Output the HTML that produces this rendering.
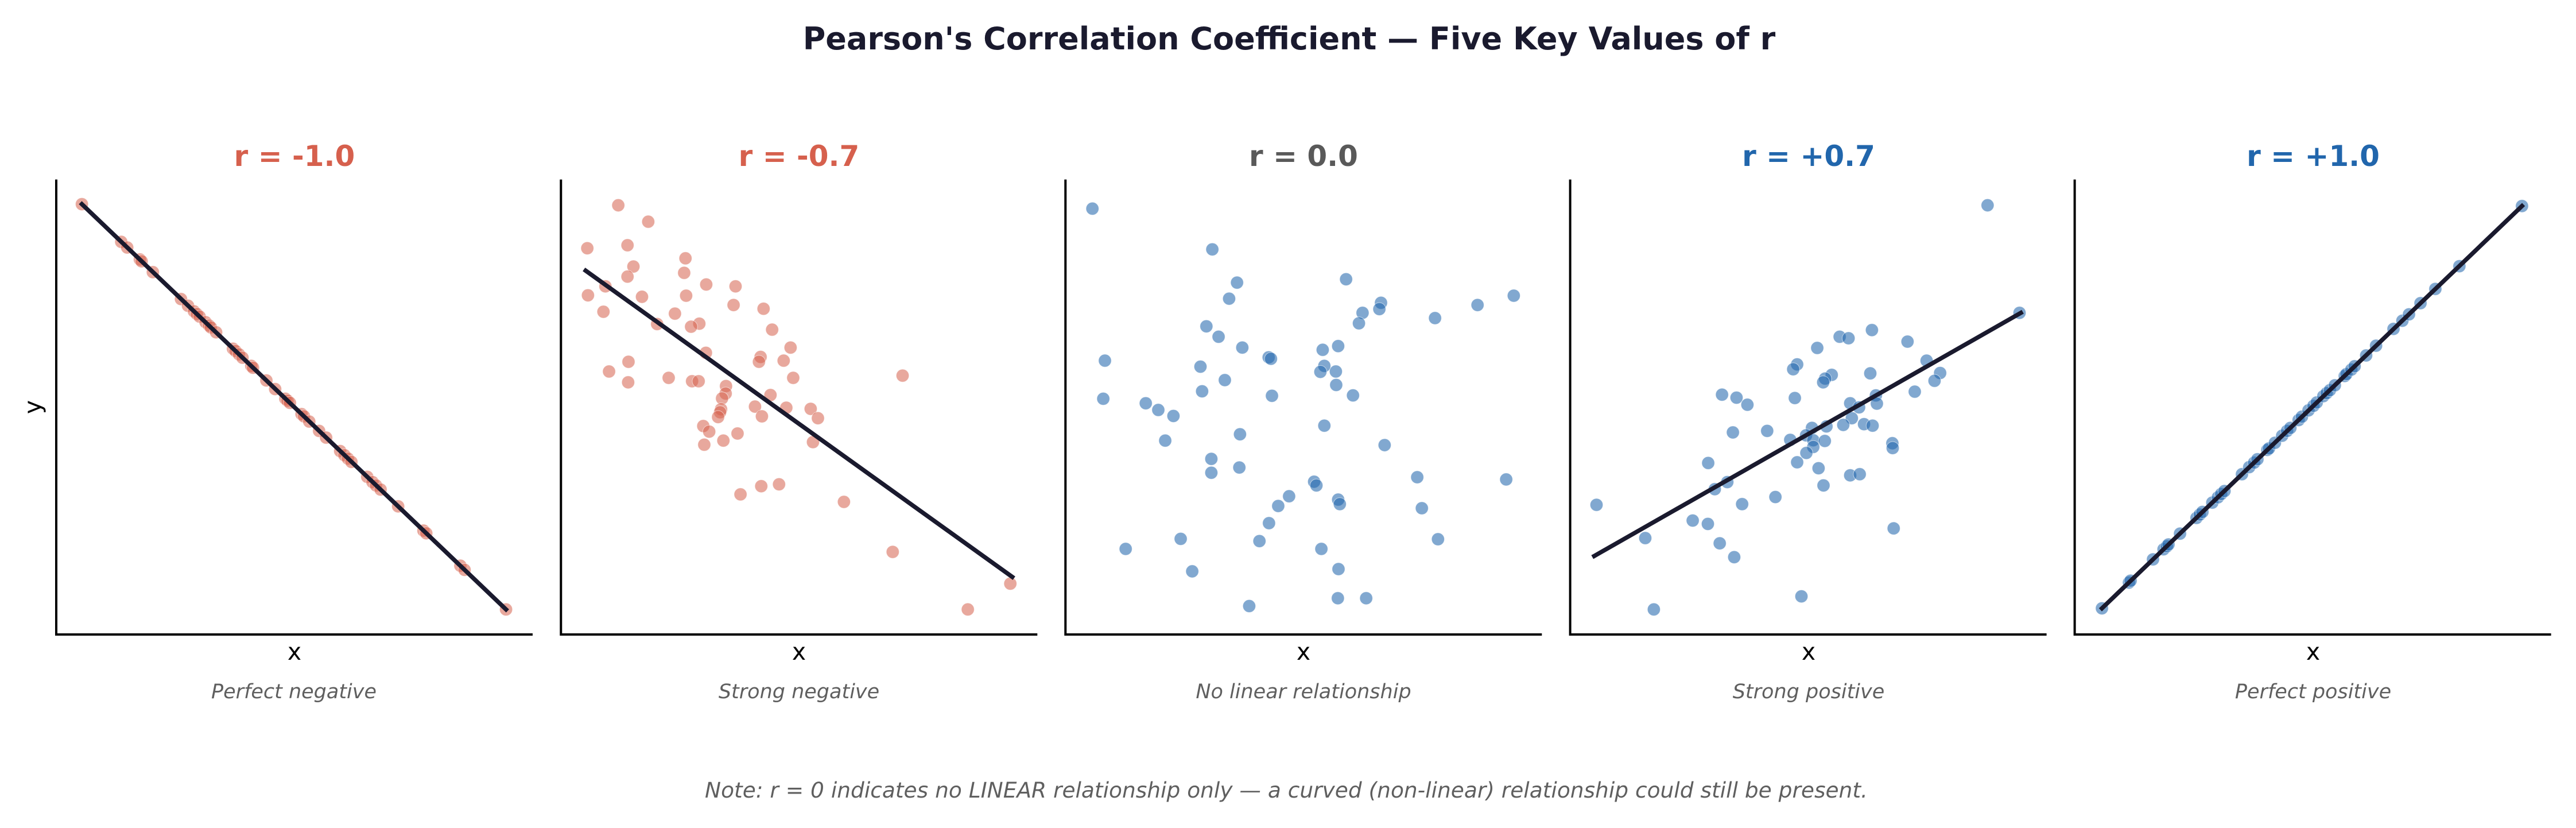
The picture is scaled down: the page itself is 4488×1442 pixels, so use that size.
<!DOCTYPE html>
<html><head><meta charset="utf-8"><style>
html,body{margin:0;padding:0;background:#fff;}
svg{display:block;}
</style></head><body>
<svg xmlns="http://www.w3.org/2000/svg" width="4488" height="1442" viewBox="0 0 4488 1442">
<defs>
<ellipse id="m1" cx="0" cy="0" rx="18.3" ry="17.2" stroke="#ffffff" stroke-width="1" vector-effect="non-scaling-stroke"/>
<ellipse id="m2" cx="0" cy="0" rx="19.5" ry="17.2" stroke="#ffffff" stroke-width="1" vector-effect="non-scaling-stroke"/>
</defs>
<rect width="4488" height="1442" fill="#fff"/>
<text x="2246" y="86" font-family="DejaVu Sans, Liberation Sans, sans-serif" font-weight="bold" font-size="54" fill="#1a1a2e" text-anchor="middle">Pearson's Correlation Coefficient — Five Key Values of r</text>

<g font-family="DejaVu Sans, Liberation Sans, sans-serif" font-weight="bold" font-size="50" text-anchor="middle">
<text x="513" y="289" fill="#d6604d">r = -1.0</text>
<text x="1392" y="289" fill="#d6604d">r = -0.7</text>
<text x="2271" y="289" fill="#595959">r = 0.0</text>
<text x="3151" y="289" fill="#2166ac">r = +0.7</text>
<text x="4030" y="289" fill="#2166ac">r = +1.0</text>
</g>

<!-- Panel 1 -->
<g transform="translate(0 230) scale(0.61224 0.65051)" fill="#d6604d" fill-opacity="0.55" stroke-opacity="0.55">
<use href="#m1" x="233" y="193"/><use href="#m1" x="345" y="294"/><use href="#m1" x="362" y="309"/><use href="#m1" x="398" y="341"/><use href="#m1" x="403" y="346"/><use href="#m1" x="435" y="375"/><use href="#m1" x="515" y="447"/><use href="#m1" x="535" y="465"/><use href="#m1" x="552" y="480"/><use href="#m1" x="560" y="487"/><use href="#m1" x="568" y="494"/><use href="#m1" x="585" y="509"/><use href="#m1" x="595" y="518"/><use href="#m1" x="600" y="523"/><use href="#m1" x="615" y="536"/><use href="#m1" x="663" y="580"/><use href="#m1" x="670" y="586"/><use href="#m1" x="680" y="595"/><use href="#m1" x="690" y="604"/><use href="#m1" x="715" y="626"/><use href="#m1" x="720" y="631"/><use href="#m1" x="758" y="665"/><use href="#m1" x="783" y="688"/><use href="#m1" x="812" y="714"/><use href="#m1" x="818" y="719"/><use href="#m1" x="825" y="725"/><use href="#m1" x="858" y="755"/><use href="#m1" x="865" y="761"/><use href="#m1" x="880" y="775"/><use href="#m1" x="908" y="800"/><use href="#m1" x="928" y="818"/><use href="#m1" x="968" y="854"/><use href="#m1" x="980" y="865"/><use href="#m1" x="990" y="874"/><use href="#m1" x="1000" y="883"/><use href="#m1" x="1045" y="923"/><use href="#m1" x="1060" y="937"/><use href="#m1" x="1070" y="946"/><use href="#m1" x="1083" y="957"/><use href="#m1" x="1133" y="1002"/><use href="#m1" x="1205" y="1067"/><use href="#m1" x="1213" y="1074"/><use href="#m1" x="1310" y="1161"/><use href="#m1" x="1322" y="1172"/><use href="#m1" x="1440" y="1278"/>
<line x1="233" y1="193" x2="1440" y2="1278" stroke="#1a1a2e" stroke-opacity="1" stroke-width="7.5" stroke-linecap="square" vector-effect="non-scaling-stroke"/>
</g>

<!-- Panel 2 -->
<g transform="translate(940 230) scale(0.57398 0.65051)" fill="#d6604d" fill-opacity="0.55" stroke-opacity="0.55">
<use href="#m2" x="239" y="196"/><use href="#m2" x="330" y="240"/><use href="#m2" x="145" y="311"/><use href="#m2" x="267" y="303"/><use href="#m2" x="443" y="338"/><use href="#m2" x="285" y="360"/><use href="#m2" x="267" y="387"/><use href="#m2" x="439" y="377"/><use href="#m2" x="506" y="408"/><use href="#m2" x="595" y="413"/><use href="#m2" x="200" y="413"/><use href="#m2" x="147" y="437"/><use href="#m2" x="311" y="441"/><use href="#m2" x="445" y="438"/><use href="#m2" x="589" y="463"/><use href="#m2" x="680" y="473"/><use href="#m2" x="194" y="481"/><use href="#m2" x="411" y="486"/><use href="#m2" x="485" y="513"/><use href="#m2" x="460" y="521"/><use href="#m2" x="357" y="514"/><use href="#m2" x="706" y="529"/><use href="#m2" x="762" y="577"/><use href="#m2" x="505" y="591"/><use href="#m2" x="671" y="602"/><use href="#m2" x="666" y="615"/><use href="#m2" x="741" y="612"/><use href="#m2" x="270" y="615"/><use href="#m2" x="211" y="641"/><use href="#m2" x="269" y="670"/><use href="#m2" x="392" y="658"/><use href="#m2" x="463" y="667"/><use href="#m2" x="483" y="667"/><use href="#m2" x="770" y="658"/><use href="#m2" x="1102" y="652"/><use href="#m2" x="566" y="680"/><use href="#m2" x="565" y="700"/><use href="#m2" x="554" y="713"/><use href="#m2" x="701" y="704"/><use href="#m2" x="551" y="742"/><use href="#m2" x="548" y="750"/><use href="#m2" x="542" y="763"/><use href="#m2" x="654" y="735"/><use href="#m2" x="749" y="738"/><use href="#m2" x="823" y="741"/><use href="#m2" x="675" y="761"/><use href="#m2" x="845" y="766"/><use href="#m2" x="497" y="787"/><use href="#m2" x="515" y="802"/><use href="#m2" x="601" y="807"/><use href="#m2" x="558" y="826"/><use href="#m2" x="500" y="837"/><use href="#m2" x="830" y="830"/><use href="#m2" x="610" y="970"/><use href="#m2" x="673" y="948"/><use href="#m2" x="727" y="943"/><use href="#m2" x="924" y="990"/><use href="#m2" x="1072" y="1124"/><use href="#m2" x="1429" y="1209"/><use href="#m2" x="1300" y="1278"/>
<line x1="140" y1="371" x2="1435" y2="1191" stroke="#1a1a2e" stroke-opacity="1" stroke-width="7.5" stroke-linecap="square" vector-effect="non-scaling-stroke"/>
</g>

<!-- Panel 3 -->
<g transform="translate(1820 230) scale(0.57398 0.65051)" fill="#2166ac" fill-opacity="0.57" stroke-opacity="0.57">
<use href="#m2" x="145" y="205"/><use href="#m2" x="509" y="314"/><use href="#m2" x="584" y="403"/><use href="#m2" x="915" y="394"/><use href="#m2" x="560" y="446"/><use href="#m2" x="1021" y="457"/><use href="#m2" x="1016" y="474"/><use href="#m2" x="1424" y="438"/><use href="#m2" x="1314" y="463"/><use href="#m2" x="965" y="484"/><use href="#m2" x="954" y="512"/><use href="#m2" x="1185" y="498"/><use href="#m2" x="491" y="520"/><use href="#m2" x="528" y="548"/><use href="#m2" x="600" y="577"/><use href="#m2" x="891" y="573"/><use href="#m2" x="844" y="583"/><use href="#m2" x="680" y="603"/><use href="#m2" x="687" y="607"/><use href="#m2" x="183" y="612"/><use href="#m2" x="473" y="628"/><use href="#m2" x="849" y="626"/><use href="#m2" x="837" y="642"/><use href="#m2" x="884" y="641"/><use href="#m2" x="547" y="664"/><use href="#m2" x="885" y="677"/><use href="#m2" x="178" y="714"/><use href="#m2" x="478" y="694"/><use href="#m2" x="690" y="706"/><use href="#m2" x="936" y="705"/><use href="#m2" x="307" y="726"/><use href="#m2" x="345" y="744"/><use href="#m2" x="391" y="760"/><use href="#m2" x="849" y="786"/><use href="#m2" x="593" y="809"/><use href="#m2" x="366" y="826"/><use href="#m2" x="1032" y="838"/><use href="#m2" x="506" y="875"/><use href="#m2" x="591" y="898"/><use href="#m2" x="506" y="912"/><use href="#m2" x="818" y="936"/><use href="#m2" x="825" y="946"/><use href="#m2" x="1131" y="924"/><use href="#m2" x="1401" y="930"/><use href="#m2" x="742" y="975"/><use href="#m2" x="709" y="1001"/><use href="#m2" x="891" y="984"/><use href="#m2" x="896" y="996"/><use href="#m2" x="1145" y="1007"/><use href="#m2" x="681" y="1047"/><use href="#m2" x="413" y="1089"/><use href="#m2" x="652" y="1095"/><use href="#m2" x="1194" y="1090"/><use href="#m2" x="246" y="1116"/><use href="#m2" x="840" y="1116"/><use href="#m2" x="448" y="1176"/><use href="#m2" x="892" y="1170"/><use href="#m2" x="890" y="1248"/><use href="#m2" x="976" y="1248"/><use href="#m2" x="621" y="1269"/>
</g>

<!-- Panel 4 -->
<g transform="translate(2700 230) scale(0.57398 0.65051)" fill="#2166ac" fill-opacity="0.57" stroke-opacity="0.57">
<use href="#m2" x="1329" y="196"/><use href="#m2" x="1426" y="484"/><use href="#m2" x="978" y="530"/><use href="#m2" x="880" y="548"/><use href="#m2" x="907" y="552"/><use href="#m2" x="1086" y="561"/><use href="#m2" x="812" y="578"/><use href="#m2" x="1144" y="612"/><use href="#m2" x="751" y="622"/><use href="#m2" x="739" y="635"/><use href="#m2" x="856" y="650"/><use href="#m2" x="836" y="660"/><use href="#m2" x="830" y="670"/><use href="#m2" x="973" y="646"/><use href="#m2" x="1185" y="645"/><use href="#m2" x="1168" y="666"/><use href="#m2" x="523" y="703"/><use href="#m2" x="567" y="711"/><use href="#m2" x="600" y="730"/><use href="#m2" x="744" y="712"/><use href="#m2" x="1108" y="695"/><use href="#m2" x="990" y="705"/><use href="#m2" x="993" y="727"/><use href="#m2" x="912" y="726"/><use href="#m2" x="939" y="737"/><use href="#m2" x="917" y="766"/><use href="#m2" x="891" y="784"/><use href="#m2" x="954" y="782"/><use href="#m2" x="980" y="786"/><use href="#m2" x="840" y="788"/><use href="#m2" x="796" y="792"/><use href="#m2" x="556" y="804"/><use href="#m2" x="660" y="800"/><use href="#m2" x="730" y="824"/><use href="#m2" x="778" y="812"/><use href="#m2" x="800" y="825"/><use href="#m2" x="835" y="827"/><use href="#m2" x="800" y="843"/><use href="#m2" x="1040" y="833"/><use href="#m2" x="1041" y="846"/><use href="#m2" x="779" y="859"/><use href="#m2" x="751" y="884"/><use href="#m2" x="481" y="886"/><use href="#m2" x="816" y="900"/><use href="#m2" x="912" y="919"/><use href="#m2" x="941" y="916"/><use href="#m2" x="831" y="946"/><use href="#m2" x="539" y="937"/><use href="#m2" x="501" y="956"/><use href="#m2" x="685" y="977"/><use href="#m2" x="584" y="996"/><use href="#m2" x="142" y="998"/><use href="#m2" x="434" y="1040"/><use href="#m2" x="480" y="1049"/><use href="#m2" x="1044" y="1061"/><use href="#m2" x="290" y="1087"/><use href="#m2" x="516" y="1101"/><use href="#m2" x="560" y="1138"/><use href="#m2" x="764" y="1243"/><use href="#m2" x="316" y="1278"/>
<line x1="135" y1="1135" x2="1430" y2="484" stroke="#1a1a2e" stroke-opacity="1" stroke-width="7.5" stroke-linecap="square" vector-effect="non-scaling-stroke"/>
</g>

<!-- Panel 5 -->
<g transform="translate(3580 230) scale(0.57398 0.65051)" fill="#2166ac" fill-opacity="0.57" stroke-opacity="0.57">
<use href="#m2" x="143" y="1275"/><use href="#m2" x="225" y="1206"/><use href="#m2" x="230" y="1201"/><use href="#m2" x="298" y="1144"/><use href="#m2" x="330" y="1117"/><use href="#m2" x="340" y="1109"/><use href="#m2" x="345" y="1104"/><use href="#m2" x="380" y="1075"/><use href="#m2" x="430" y="1033"/><use href="#m2" x="440" y="1024"/><use href="#m2" x="448" y="1017"/><use href="#m2" x="478" y="992"/><use href="#m2" x="495" y="978"/><use href="#m2" x="505" y="969"/><use href="#m2" x="515" y="961"/><use href="#m2" x="568" y="916"/><use href="#m2" x="590" y="897"/><use href="#m2" x="605" y="885"/><use href="#m2" x="615" y="876"/><use href="#m2" x="645" y="851"/><use href="#m2" x="650" y="847"/><use href="#m2" x="668" y="832"/><use href="#m2" x="690" y="813"/><use href="#m2" x="705" y="800"/><use href="#m2" x="715" y="792"/><use href="#m2" x="740" y="771"/><use href="#m2" x="750" y="762"/><use href="#m2" x="770" y="745"/><use href="#m2" x="785" y="733"/><use href="#m2" x="795" y="724"/><use href="#m2" x="815" y="707"/><use href="#m2" x="825" y="699"/><use href="#m2" x="835" y="691"/><use href="#m2" x="850" y="678"/><use href="#m2" x="880" y="653"/><use href="#m2" x="885" y="648"/><use href="#m2" x="900" y="636"/><use href="#m2" x="910" y="627"/><use href="#m2" x="945" y="598"/><use href="#m2" x="975" y="572"/><use href="#m2" x="1028" y="527"/><use href="#m2" x="1055" y="505"/><use href="#m2" x="1075" y="488"/><use href="#m2" x="1110" y="458"/><use href="#m2" x="1155" y="420"/><use href="#m2" x="1228" y="359"/><use href="#m2" x="1418" y="198"/>
<line x1="143" y1="1275" x2="1418" y2="198" stroke="#1a1a2e" stroke-opacity="1" stroke-width="7.5" stroke-linecap="square" vector-effect="non-scaling-stroke"/>
</g>

<!-- Spines -->
<g stroke="#000" stroke-width="4" fill="none">
<path d="M98 312.6 V1107 M96 1105 H928"/>
<path d="M977.3 312.6 V1107 M975.3 1105 H1807.3"/>
<path d="M1856.3 312.6 V1107 M1854.3 1105 H2686.3"/>
<path d="M2735.6 312.6 V1107 M2733.6 1105 H3565.6"/>
<path d="M3614.6 312.6 V1107 M3612.6 1105 H4444.6"/>
</g>

<!-- Axis labels -->
<g font-family="DejaVu Sans, Liberation Sans, sans-serif" font-size="41" fill="#000" text-anchor="middle">
<text x="513" y="1149">x</text>
<text x="1392" y="1149">x</text>
<text x="2271" y="1149">x</text>
<text x="3151" y="1149">x</text>
<text x="4030" y="1149">x</text>
<text x="0" y="0" transform="translate(71 709) rotate(-90)">y</text>
</g>

<!-- Subtitles -->
<g font-family="DejaVu Sans, Liberation Sans, sans-serif" font-size="35" font-style="italic" fill="#5f5f5f" text-anchor="middle">
<text x="512" y="1216">Perfect negative</text>
<text x="1392" y="1216">Strong negative</text>
<text x="2271" y="1216">No linear relationship</text>
<text x="3151" y="1216">Strong positive</text>
<text x="4030" y="1216">Perfect positive</text>
</g>

<text x="2241" y="1389" font-family="DejaVu Sans, Liberation Sans, sans-serif" font-size="37.5" font-style="italic" fill="#5f5f5f" text-anchor="middle">Note: r = 0 indicates no LINEAR relationship only — a curved (non-linear) relationship could still be present.</text>
</svg>
</body></html>
